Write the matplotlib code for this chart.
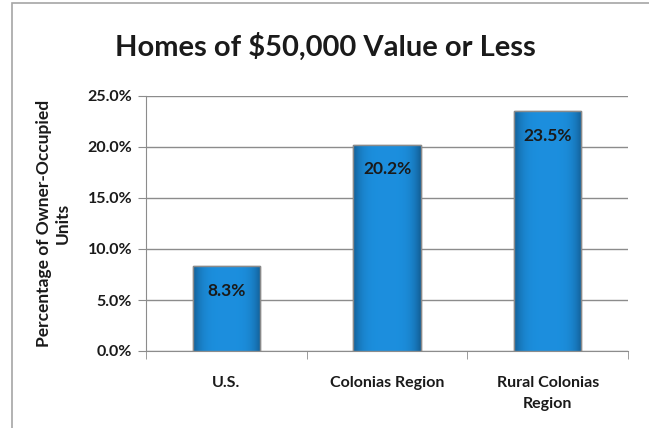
import matplotlib.pyplot as plt
import numpy as np
from matplotlib.patches import Rectangle
from matplotlib.ticker import FuncFormatter, FixedLocator, NullFormatter

categories = ["U.S.", "Colonias Region", "Rural Colonias\nRegion"]
values = [8.3, 20.2, 23.5]
value_labels = ["8.3%", "20.2%", "23.5%"]
yticks = [0, 5, 10, 15, 20, 25]

plt.rcParams['font.family'] = ['Lato', 'DejaVu Sans']

fig = plt.figure(figsize=(6.49, 4.28), dpi=100)
ax = fig.add_axes([146 / 649, 1 - 351 / 428, (628 - 146) / 649, (351 - 96) / 428])

# outer chart frame
fig.patches.append(Rectangle((12 / 649, -0.05), 1.2, 1.05 - 3 / 428, transform=fig.transFigure,
                             fill=False, edgecolor='#a6a6a6', linewidth=1.2))

x = np.arange(len(categories))
bars = ax.bar(x, values, width=0.42, color='#1b8bd3', edgecolor='#8a8a8a', linewidth=1.0, zorder=3)

# horizontal gradient on each bar
grad = np.linspace(0, 1, 256)
shade = 1 - 0.35 * (np.abs(grad - 0.5) * 2) ** 4
cmap_img = np.zeros((1, 256, 3))
cmap_img[0, :, 0] = 0.11 * shade
cmap_img[0, :, 1] = 0.56 * shade
cmap_img[0, :, 2] = 0.84 * shade + 0.03
for b in bars:
    x0, y0, w, h = b.get_x(), b.get_y(), b.get_width(), b.get_height()
    im = ax.imshow(cmap_img, extent=[x0, x0 + w, y0, y0 + h], aspect='auto', zorder=3.5,
                   interpolation='bicubic')
    im.set_clip_path(b)
    ax.add_patch(Rectangle((x0, y0), w, h, fill=False, edgecolor='#8a8a8a', linewidth=1.0, zorder=4))

for xi, v, lab in zip(x, values, value_labels):
    ax.text(xi, v - 2.4, lab, ha='center', va='center', fontsize=12.5, fontweight='bold',
            color='#1a1a1a', zorder=5)

ax.set_xlim(-0.5, 2.5)
ax.set_ylim(0, 25)
ax.set_yticks(yticks)
ax.yaxis.set_major_formatter(FuncFormatter(lambda v, p: f"{v:.1f}%"))
ax.grid(axis='y', color='#8c8c8c', linewidth=1.0, zorder=0)
ax.set_axisbelow(True)

ax.set_xticks(x)
ax.set_xticklabels(categories, fontsize=11.5, fontweight='bold', color='#1a1a1a', linespacing=1.6)
ax.tick_params(axis='x', which='major', length=0, pad=18)
ax.xaxis.set_minor_locator(FixedLocator([-0.5, 0.5, 1.5, 2.5]))
ax.xaxis.set_minor_formatter(NullFormatter())
ax.tick_params(axis='x', which='minor', length=6, color='#8c8c8c', direction='out')
ax.tick_params(axis='y', length=6, color='#8c8c8c', labelsize=11.5, pad=4, labelcolor='#1a1a1a')
for lbl in ax.get_yticklabels():
    lbl.set_fontweight('bold')

for s in ['top', 'right']:
    ax.spines[s].set_visible(False)
ax.spines['left'].set_color('#8c8c8c')
ax.spines['bottom'].set_color('#8c8c8c')

ax.set_ylabel("Percentage of Owner-Occupied\nUnits", fontsize=12.5, fontweight='bold',
              color='#1a1a1a', labelpad=12, linespacing=1.2)

fig.text(325 / 649, 1 - 47 / 428, "Homes of $50,000 Value or Less", ha='center', va='center',
         fontsize=21, fontweight='bold', color='#1a1a1a')

fig.savefig("out.png", dpi=100)
